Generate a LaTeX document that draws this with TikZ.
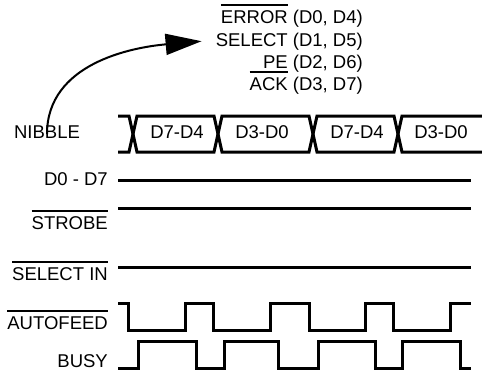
\documentclass[tikz,border=0pt]{standalone}
\usepackage{fontspec}
\setmainfont{Liberation Sans}
\usetikzlibrary{arrows.meta}
\usetikzlibrary{positioning}

% bar over an active-low signal name
\newcommand{\ovl}[1]{\setbox0\hbox{#1}\rlap{\rule[17.5pt]{\wd0}{1.8pt}}\box0\relax}

\tikzset{
  sig/.style={line width=3pt, line join=miter},
  lbl/.style={font=\fontsize{18.5}{22}\selectfont, inner sep=0pt, anchor=base east},
  bustxt/.style={font=\fontsize{18.5}{22}\selectfont, inner sep=0pt, anchor=base},
}

\begin{document}
\begin{tikzpicture}[x=1pt, y=-1pt]
            \useasboundingbox (0,0) rectangle (482,373);

            % Status lines carrying the nibble
            \node [lbl] (err) at (363,23.5) {\ovl{ERROR} (D0, D4)};
            \node [lbl] (sel) at (363,46) {SELECT (D1, D5)};
            \node [lbl] (pe) at (363,68) {PE (D2, D6)};
            \node [lbl] (ack) at (363,90.5) {\ovl{ACK} (D3, D7)};

            % Signal names
            \node [bustxt] (nibble) at (47,138) {NIBBLE};
            \node [lbl] (data) at (108,185) {D0 - D7};
            \node [lbl] (strobe) at (108,229) {\ovl{STROBE}};
            \node [lbl] (selin) at (108,280) {\ovl{SELECT IN}};
            \node [lbl] (autofeed) at (108,329) {\ovl{AUTOFEED}};
            \node [lbl] (busy) at (108,367) {BUSY};

            % Nibble goes out on the status lines
            \draw [line width=2pt, -{Triangle[length=36pt, width=21pt]}]
                ([yshift=-9pt]nibble.north) to[out=90, in=185] ([xshift=-14pt]sel.west);

            % Nibble bus
            \draw [sig] (118,116) -- (129,116) -- (137,152) -- (214,152) -- (222,116) -- (309,116)
                -- (317,152) -- (394,152) -- (402,116) -- (482,116);
            \draw [sig] (118,152) -- (129,152) -- (137,116) -- (214,116) -- (222,152) -- (309,152)
                -- (317,116) -- (394,116) -- (402,152) -- (482,152);
            \foreach \x/\t in {177/D7-D4, 262/D3-D0, 357/D7-D4, 441/D3-D0} {
                \node [bustxt] (nib\x) at (\x,138) {\t};
            }

            % Lines held steady
            \foreach \y in {180, 208, 267} {
                \draw [sig] (118,\y) -- (471,\y);
            }

            % Handshake
            \draw [sig] (118,303) -| (128,330) -| (185,303) -| (213,330) -| (270,303) -| (309,330)
                -| (365,303) -| (393,330) -| (450,303) -- (471,303);
            \draw [sig] (118,368) -| (138,341) -| (196,368) -| (224,341) -| (278,368) -| (318,341)
                -| (375,368) -| (402,341) -| (460,368) -- (471,368);
        \end{tikzpicture}
\end{document}
